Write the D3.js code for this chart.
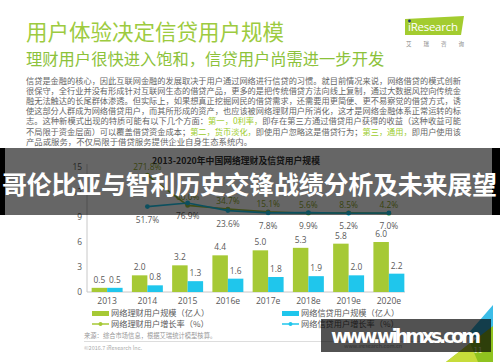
<!DOCTYPE html>
<html>
<head>
<meta charset="utf-8">
<script src="https://cdn.jsdelivr.net/npm/d3@7"></script>
<style>
  body { margin: 0; background: #fff; }
  svg { display: block; font-family: "Noto Sans CJK SC", "Noto Sans", sans-serif; }
</style>
</head>
<body>
<div id="chart"></div>
<script>
const years = ["2013", "2014", "2015", "2016e", "2017e", "2018e", "2019e", "2020e"];
const wealthUsers = [0.5, 2.0, 3.2, 4.4, 5.0, 5.3, 5.8, 6.0];
const creditUsers = [0.5, 0.8, 1.3, 1.6, 1.8, 1.9, 2.0, 2.2];
const wealthGrowth = [null, 271.8, 60.0, 34.7, 15.1, 5.6, 8.5, 4.2];
const creditGrowth = [null, 51.7, 76.9, 23.6, 7.8, 9.9, 5.2, 7.0];
const yTicks = [0, 3, 6, 9, 12, 15];
const seriesNames = ["网络理财用户规模（亿人）", "网络信贷用户规模（亿人）",
    "网络理财用户增长率（%）", "网络信贷用户增长率（%）"];

const paragraph = [
    [["信贷是金融的核心，因此互联网金融的发展取决于用户通过网络进行信贷的习惯。就目前情况来说，网络借贷的模式创新", 0]],
    [["很保守，全行业并没有形成针对互联网生态的借贷产品，更多的是把传统借贷方法向线上复制，通过大数据风控向传统金", 0]],
    [["融无法触达的长尾群体渗透。但实际上，如果想真正挖掘网民的借贷需求，还需要用更简便、更不易察觉的借贷方式，诱", 0]],
    [["使这部分人群成为网络借贷用户，而其所形成的资产，也应该被网络理财用户所消化，这才是网络金融体系正常运转的标", 0]],
    [["志。这种新模式出现的特质可能有以下几个方面：", 0], ["第一，0利率，", 1], ["即存在第三方通过借贷用户获得的收益（这种收益可能", 0]],
    [["不局限于资金层面）可以覆盖借贷资金成本；", 0], ["第二，货币淡化，", 1], ["即使用户忽略这是借贷行为；", 0], ["第三，通用，", 1], ["即用户使用该", 0]],
    [["产品或服务，不仅局限于借贷服务提供企业自身生态系统内。", 0]]
];

const width = 500,
    height = 362;

const green = "#a6c935",
    blue = "#1fc6ec",
    titleGreen = "#9dcb3f",
    textGray = "#595959";

const svg = d3.select("#chart").append("svg")
    .attr("width", width)
    .attr("height", height);

// Slide header
svg.append("text")
    .attr("x", 26).attr("y", 39.5)
    .attr("font-size", 21.5)
    .attr("fill", titleGreen)
    .text("用户体验决定信贷用户规模");

svg.append("text")
    .attr("x", 26).attr("y", 64.5)
    .attr("font-size", 16.3)
    .attr("fill", "#8cc23a")
    .text("理财用户很快进入饱和，信贷用户尚需进一步开发");

// iResearch logo
let logo = svg.append("g");
logo.append("path")
    .attr("d", "M405,19 L464,16 L461,35 L405,35 Z")
    .attr("fill", "#a3cc2f");
logo.append("text")
    .attr("x", 408).attr("y", 31)
    .attr("font-family", "Open Sans, sans-serif")
    .attr("font-size", 11.5)
    .attr("fill", "#fff")
    .attr("textLength", 50)
    .text("iResearch");
logo.append("circle")
    .attr("cx", 409.5).attr("cy", 21).attr("r", 1.4)
    .attr("fill", "#23327a");
logo.append("text")
    .attr("x", 406).attr("y", 45.5)
    .attr("font-size", 5.5)
    .attr("fill", "#888")
    .attr("textLength", 58)
    .text("艾　 瑞　 咨　 询");

// Body text
let para = svg.append("g")
    .attr("font-size", 8.4)
    .attr("fill", "#666");

paragraph.forEach((line, i) => {
    let t = para.append("text")
        .attr("x", 26)
        .attr("y", 84 + i * 10.1);
    if (i < paragraph.length - 1) {
        t.attr("textLength", 435).attr("lengthAdjust", "spacingAndGlyphs");
    }
    line.forEach(seg => {
        t.append("tspan")
            .attr("fill", seg[1] ? "#9ccc2c" : null)
            .text(seg[0]);
    });
});

// Chart
svg.append("text")
    .attr("x", 236).attr("y", 164)
    .attr("text-anchor", "middle")
    .attr("font-size", 8.8)
    .attr("font-weight", "bold")
    .attr("fill", "#333")
    .text("2013-2020年中国网络理财及信贷用户规模");

let x = d3.scaleBand()
    .domain(years)
    .range([87, 409]);

let x1 = d3.scaleBand()
    .domain([0, 1])
    .range([0, x.bandwidth()])
    .paddingOuter(0.3);

let y = d3.scaleLinear()
    .domain([0, 15])
    .range([292, 167]);

let yRate = d3.scaleLinear()
    .domain([0, 300])
    .range([214, 171]);

// axes
svg.append("line")
    .attr("x1", 87).attr("x2", 87)
    .attr("y1", y(15) - 3).attr("y2", y(0))
    .attr("stroke", "#c8c8c8");

svg.append("g")
    .attr("transform", "translate(0," + y(0) + ")")
    .call(d3.axisBottom(x).tickSize(0).tickPadding(6))
    .call(g => g.select(".domain").attr("stroke", "#c8c8c8").attr("d", "M87,0H405"))
    .call(g => g.selectAll("text")
        .attr("font-size", 8.6)
        .attr("font-family", "Open Sans, sans-serif")
        .attr("fill", textGray));

svg.append("g")
    .attr("transform", "translate(82,0)")
    .call(d3.axisLeft(y).tickValues(yTicks).tickSize(0).tickPadding(0))
    .call(g => g.select(".domain").remove())
    .call(g => g.selectAll("text")
        .attr("font-size", 8.4)
        .attr("font-family", "Open Sans, sans-serif")
        .attr("fill", textGray));

// bars
[wealthUsers, creditUsers].forEach((values, s) => {
    let g = svg.append("g");
    g.selectAll("rect")
        .data(values)
        .join("rect")
        .attr("x", (d, i) => x(years[i]) + x1(s))
        .attr("y", d => y(d))
        .attr("width", x1.bandwidth())
        .attr("height", d => y(0) - y(d))
        .attr("fill", s ? blue : green);
    g.selectAll("text")
        .data(values)
        .join("text")
        .attr("x", (d, i) => x(years[i]) + x1(s) + x1.bandwidth() / 2)
        .attr("y", d => y(d) - 5)
        .attr("text-anchor", "middle")
        .attr("font-size", 8.4)
        .attr("font-family", "Open Sans, sans-serif")
        .attr("fill", textGray)
        .text(d => d.toFixed(1));
});

// growth lines
let cx = i => x(years[i]) + x.bandwidth() / 2;
[[wealthGrowth, "#9fc03a", -8, "#8fa82a"], [creditGrowth, blue, 13, textGray]].forEach(([values, colour, dy, labelColour]) => {
    let pts = values.map((d, i) => [i, d]).filter(p => p[1] !== null);
    svg.append("path")
        .datum(pts)
        .attr("fill", "none")
        .attr("stroke", colour)
        .attr("stroke-width", 1.6)
        .attr("d", d3.line().x(p => cx(p[0])).y(p => yRate(p[1])));
    svg.append("g").selectAll("circle")
        .data(pts)
        .join("circle")
        .attr("cx", p => cx(p[0]))
        .attr("cy", p => yRate(p[1]))
        .attr("r", 2.4)
        .attr("fill", colour);
    svg.append("g").selectAll("text")
        .data(pts)
        .join("text")
        .attr("x", p => cx(p[0]))
        .attr("y", p => yRate(p[1]) + dy)
        .attr("dy", "0.35em")
        .attr("text-anchor", "middle")
        .attr("font-size", 8.4)
        .attr("font-family", "Open Sans, sans-serif")
        .attr("fill", labelColour)
        .text(p => p[1].toFixed(1) + "%");
});

// legend
let legend = svg.append("g")
    .attr("font-size", 8.2)
    .attr("fill", textGray);
[[92, 313.5], [282, 313.5], [92, 324], [282, 324]].forEach(([lx, ly], i) => {
    let colour = i % 2 ? blue : green;
    if (i < 2) {
        legend.append("rect")
            .attr("x", lx).attr("y", ly - 2.5)
            .attr("width", 17).attr("height", 5)
            .attr("fill", colour);
    } else {
        legend.append("line")
            .attr("x1", lx).attr("x2", lx + 17)
            .attr("y1", ly).attr("y2", ly)
            .attr("stroke", colour).attr("stroke-width", 1.5);
        legend.append("circle")
            .attr("cx", lx + 8.5).attr("cy", ly).attr("r", 2)
            .attr("fill", colour);
    }
    legend.append("text")
        .attr("x", lx + 19).attr("y", ly)
        .attr("dy", "0.35em")
        .text(seriesNames[i]);
});

// footer
svg.append("text")
    .attr("x", 84).attr("y", 338)
    .attr("font-size", 6.3)
    .attr("fill", "#999")
    .text("来源：综合市场信息，根据艾瑞统计模型核算。");
svg.append("line")
    .attr("x1", 84).attr("x2", 455)
    .attr("y1", 341.5).attr("y2", 341.5)
    .attr("stroke", "#ddd");
svg.append("text")
    .attr("x", 84).attr("y", 349.5)
    .attr("font-size", 5.5)
    .attr("fill", "#aaa")
    .text("©2016.7 iResearch Inc.");
svg.append("text")
    .attr("x", 344).attr("y", 348)
    .attr("font-size", 5.5)
    .attr("fill", "#aaa")
    .text("www.iresearch.com.cn");

// corner triangles
svg.append("path").attr("d", "M493,305 L493,340 L466,336 Z").attr("fill", "#3bbde8");
svg.append("path").attr("d", "M493,326 L493,362 L446,362 Z").attr("fill", "#8fc31f");
svg.append("path").attr("d", "M470,343 L478,362 L446,362 Z").attr("fill", "#c7dc3a");
svg.append("text")
    .attr("x", 478).attr("y", 353)
    .attr("text-anchor", "middle")
    .attr("font-size", 8)
    .attr("fill", "#e8f0c8")
    .text("11");

// overlays
svg.append("rect")
    .attr("x", 0).attr("y", 148).attr("width", 5).attr("height", 67)
    .attr("fill", "#000");
svg.append("rect")
    .attr("x", 492).attr("y", 148).attr("width", 8).attr("height", 67)
    .attr("fill", "#000");
svg.append("rect")
    .attr("x", 5).attr("y", 148).attr("width", 487).attr("height", 67)
    .attr("fill", "#000").attr("opacity", 0.6);
svg.append("text")
    .attr("x", 2).attr("y", 185)
    .attr("dy", "0.35em")
    .attr("font-size", 25)
    .attr("font-weight", "bold")
    .attr("fill", "#fff")
    .attr("textLength", 495)
    .text("哥伦比亚与智利历史交锋战绩分析及未来展望");

svg.append("rect")
    .attr("x", 321).attr("y", 319).attr("width", 170).attr("height", 33)
    .attr("fill", "#000").attr("opacity", 0.68);
svg.append("text")
    .attr("x", 331).attr("y", 343)
    .attr("font-family", "DejaVu Sans, sans-serif")
    .attr("font-size", 19)
    .attr("font-weight", "bold")
    .attr("fill", "#fff")
    .attr("textLength", 150)
    .text("www.wihmxs.com");
</script>
</body>
</html>
